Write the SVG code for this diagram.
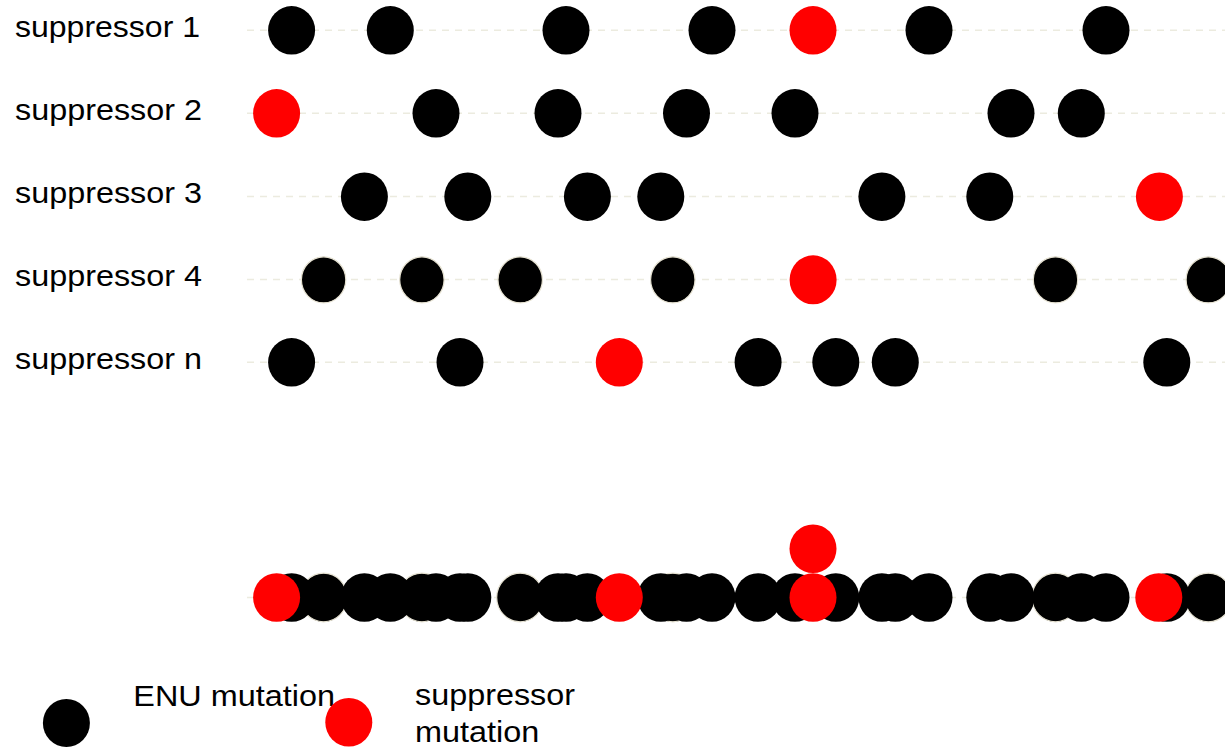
<svg xmlns="http://www.w3.org/2000/svg" width="1225" height="747" viewBox="0 0 1225 747">
  <style>
    .label { font-family: "Liberation Sans", Arial, sans-serif; font-size: 29px; fill: #000; }
    .track { stroke: #ecebdf; stroke-width: 1.6; stroke-dasharray: 7 6; fill: none; }
    .enu { fill: #000; }
    .enu-o { fill: #000; stroke: #e6e2d2; stroke-width: 1.2; }
    .sup { fill: #ff0000; }
  </style>

  <rect width="1225" height="747" fill="#fff"/>

  <!-- dashed guide tracks -->
  <g id="tracks">
    <line class="track" x1="247" y1="30.3" x2="1225" y2="30.3"/>
    <line class="track" x1="247" y1="113.3" x2="1225" y2="113.3"/>
    <line class="track" x1="247" y1="196.5" x2="1225" y2="196.5"/>
    <line class="track" x1="247" y1="279.5" x2="1225" y2="279.5"/>
    <line class="track" x1="247" y1="362.3" x2="1225" y2="362.3"/>
    <line class="track" x1="247" y1="597.5" x2="1225" y2="597.5"/>
  </g>

  <!-- suppressor 1 -->
  <g id="row-s1">
    <text class="label" x="15" y="36.7" textLength="185" lengthAdjust="spacingAndGlyphs">suppressor 1</text>
    <ellipse class="enu" cx="291.6" cy="30.3" rx="23.5" ry="24.2"/>
    <ellipse class="enu" cx="390.3" cy="30.3" rx="23.5" ry="24.2"/>
    <ellipse class="enu" cx="566" cy="30.3" rx="23.5" ry="24.2"/>
    <ellipse class="enu" cx="712" cy="30.3" rx="23.5" ry="24.2"/>
    <ellipse class="sup" cx="813" cy="30.3" rx="23.5" ry="24.2"/>
    <ellipse class="enu" cx="929" cy="30.3" rx="23.5" ry="24.2"/>
    <ellipse class="enu" cx="1106" cy="30.3" rx="23.5" ry="24.2"/>
  </g>

  <!-- suppressor 2 -->
  <g id="row-s2">
    <text class="label" x="15" y="119.8" textLength="187" lengthAdjust="spacingAndGlyphs">suppressor 2</text>
    <ellipse class="sup" cx="276.6" cy="113.3" rx="23.5" ry="24.2"/>
    <ellipse class="enu" cx="436" cy="113.3" rx="23.5" ry="24.2"/>
    <ellipse class="enu" cx="558" cy="113.3" rx="23.5" ry="24.2"/>
    <ellipse class="enu" cx="686.5" cy="113.3" rx="23.5" ry="24.2"/>
    <ellipse class="enu" cx="795" cy="113.3" rx="23.5" ry="24.2"/>
    <ellipse class="enu" cx="1011" cy="113.3" rx="23.5" ry="24.2"/>
    <ellipse class="enu" cx="1081.3" cy="113.3" rx="23.5" ry="24.2"/>
  </g>

  <!-- suppressor 3 -->
  <g id="row-s3">
    <text class="label" x="15" y="202.7" textLength="187" lengthAdjust="spacingAndGlyphs">suppressor 3</text>
    <ellipse class="enu" cx="364.4" cy="196.7" rx="23.5" ry="24.2"/>
    <ellipse class="enu" cx="467.8" cy="196.7" rx="23.5" ry="24.2"/>
    <ellipse class="enu" cx="587.4" cy="196.7" rx="23.5" ry="24.2"/>
    <ellipse class="enu" cx="660.8" cy="196.7" rx="23.5" ry="24.2"/>
    <ellipse class="enu" cx="881.9" cy="196.7" rx="23.5" ry="24.2"/>
    <ellipse class="enu" cx="989.8" cy="196.7" rx="23.5" ry="24.2"/>
    <ellipse class="sup" cx="1159.4" cy="196.7" rx="23.5" ry="24.2"/>
  </g>

  <!-- suppressor 4 -->
  <g id="row-s4">
    <text class="label" x="15" y="286" textLength="187" lengthAdjust="spacingAndGlyphs">suppressor 4</text>
    <ellipse class="enu-o" cx="323.6" cy="279.8" rx="22.2" ry="23"/>
    <ellipse class="enu-o" cx="421.9" cy="279.8" rx="22.2" ry="23"/>
    <ellipse class="enu-o" cx="520.2" cy="279.8" rx="22.2" ry="23"/>
    <ellipse class="enu-o" cx="672.8" cy="279.8" rx="22.2" ry="23"/>
    <ellipse class="sup" cx="813.1" cy="279.8" rx="23.5" ry="24.5"/>
    <ellipse class="enu-o" cx="1055.5" cy="279.8" rx="22.2" ry="23"/>
    <ellipse class="enu-o" cx="1208.3" cy="279.8" rx="22.2" ry="23"/>
  </g>

  <!-- suppressor n -->
  <g id="row-sn">
    <text class="label" x="15" y="368.5" textLength="187" lengthAdjust="spacingAndGlyphs">suppressor n</text>
    <ellipse class="enu" cx="291.6" cy="362.3" rx="23.5" ry="24.2"/>
    <ellipse class="enu" cx="460" cy="362.3" rx="23.5" ry="24.2"/>
    <ellipse class="sup" cx="619.3" cy="362.3" rx="23.5" ry="24.2"/>
    <ellipse class="enu" cx="758.1" cy="362.3" rx="23.5" ry="24.2"/>
    <ellipse class="enu" cx="835.8" cy="362.3" rx="23.5" ry="24.2"/>
    <ellipse class="enu" cx="895.3" cy="362.3" rx="23.5" ry="24.2"/>
    <ellipse class="enu" cx="1166.8" cy="362.3" rx="23.5" ry="24.2"/>
  </g>

  <!-- combined track: all mutations pooled -->
  <g id="row-combined">
    <ellipse class="enu-o" cx="323.6" cy="597.5" rx="23.5" ry="24.3"/>
    <ellipse class="enu-o" cx="421.9" cy="597.5" rx="23.5" ry="24.3"/>
    <ellipse class="enu-o" cx="520.2" cy="597.5" rx="23.5" ry="24.3"/>
    <ellipse class="enu-o" cx="672.8" cy="597.5" rx="23.5" ry="24.3"/>
    <ellipse class="enu-o" cx="1055.5" cy="597.5" rx="23.5" ry="24.3"/>
    <ellipse class="enu-o" cx="1208.3" cy="597.5" rx="23.5" ry="24.3"/>
    <ellipse class="enu" cx="291.6" cy="597.5" rx="23.5" ry="24.3"/>
    <ellipse class="enu" cx="390.3" cy="597.5" rx="23.5" ry="24.3"/>
    <ellipse class="enu" cx="566" cy="597.5" rx="23.5" ry="24.3"/>
    <ellipse class="enu" cx="712" cy="597.5" rx="23.5" ry="24.3"/>
    <ellipse class="enu" cx="929" cy="597.5" rx="23.5" ry="24.3"/>
    <ellipse class="enu" cx="1106" cy="597.5" rx="23.5" ry="24.3"/>
    <ellipse class="enu" cx="436" cy="597.5" rx="23.5" ry="24.3"/>
    <ellipse class="enu" cx="558" cy="597.5" rx="23.5" ry="24.3"/>
    <ellipse class="enu" cx="686.5" cy="597.5" rx="23.5" ry="24.3"/>
    <ellipse class="enu" cx="795" cy="597.5" rx="23.5" ry="24.3"/>
    <ellipse class="enu" cx="1011" cy="597.5" rx="23.5" ry="24.3"/>
    <ellipse class="enu" cx="1081.3" cy="597.5" rx="23.5" ry="24.3"/>
    <ellipse class="enu" cx="364.4" cy="597.5" rx="23.5" ry="24.3"/>
    <ellipse class="enu" cx="467.8" cy="597.5" rx="23.5" ry="24.3"/>
    <ellipse class="enu" cx="587.4" cy="597.5" rx="23.5" ry="24.3"/>
    <ellipse class="enu" cx="660.8" cy="597.5" rx="23.5" ry="24.3"/>
    <ellipse class="enu" cx="881.9" cy="597.5" rx="23.5" ry="24.3"/>
    <ellipse class="enu" cx="989.8" cy="597.5" rx="23.5" ry="24.3"/>
    <ellipse class="enu" cx="460" cy="597.5" rx="23.5" ry="24.3"/>
    <ellipse class="enu" cx="758.1" cy="597.5" rx="23.5" ry="24.3"/>
    <ellipse class="enu" cx="835.8" cy="597.5" rx="23.5" ry="24.3"/>
    <ellipse class="enu" cx="895.3" cy="597.5" rx="23.5" ry="24.3"/>
    <ellipse class="enu" cx="1166.8" cy="597.5" rx="23.5" ry="24.3"/>
    <ellipse class="sup" cx="276.6" cy="597.5" rx="23.5" ry="24.3"/>
    <ellipse class="sup" cx="619.3" cy="597.5" rx="23.5" ry="24.3"/>
    <ellipse class="sup" cx="813" cy="597.5" rx="23.5" ry="24.3"/>
    <ellipse class="sup" cx="813" cy="548.7" rx="23.5" ry="24.3"/>
    <ellipse class="sup" cx="1158.8" cy="597.5" rx="23.5" ry="24.3"/>
  </g>

  <!-- legend -->
  <g id="legend-enu">
    <ellipse class="enu" cx="66.4" cy="723" rx="23.5" ry="24"/>
    <text class="label" x="133.3" y="705.7" textLength="201.7" lengthAdjust="spacingAndGlyphs">ENU mutation</text>
  </g>
  <g id="legend-suppressor">
    <ellipse class="sup" cx="348.8" cy="722.3" rx="23.5" ry="24.3"/>
    <text class="label" x="415" y="705" textLength="160" lengthAdjust="spacingAndGlyphs">suppressor</text>
    <text class="label" x="415" y="741.7" textLength="124.3" lengthAdjust="spacingAndGlyphs">mutation</text>
  </g>
</svg>
